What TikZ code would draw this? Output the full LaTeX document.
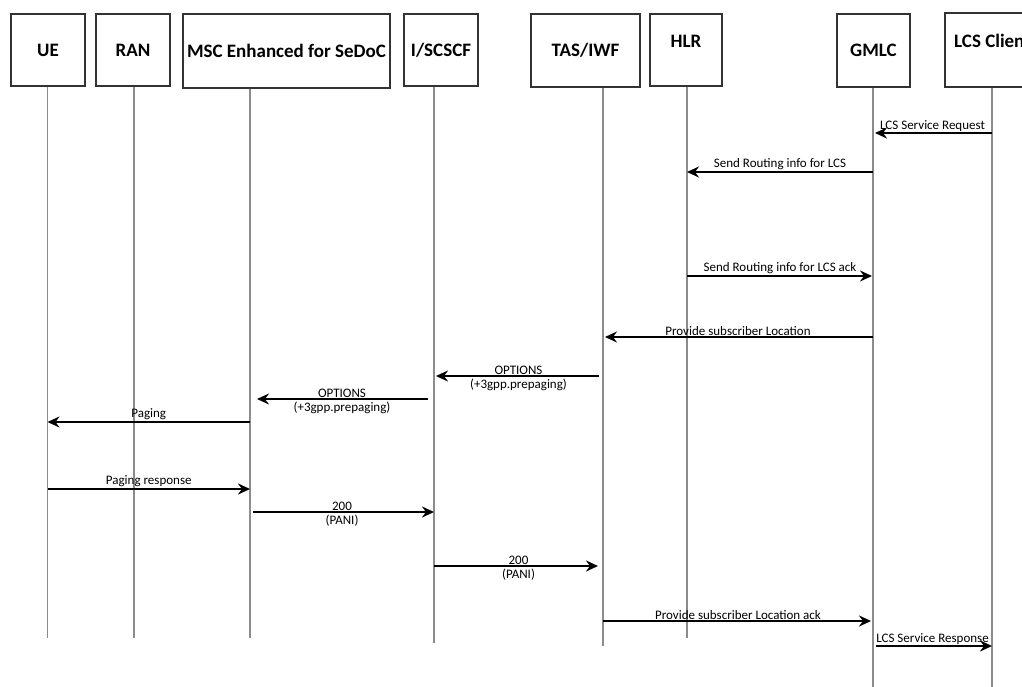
\documentclass[tikz,border=0pt]{standalone}
\usepackage{fontspec}
\setmainfont{Carlito}
\usetikzlibrary{arrows.meta}
\definecolor{boxgray}{HTML}{333333}
\definecolor{lifegray}{HTML}{8C8C8C}
\begin{document}
\begin{tikzpicture}[x=1pt,y=-1pt,
  hdr/.style={draw=boxgray, line width=1.3pt, inner sep=0pt,
              font=\fontsize{19}{22}\selectfont\bfseries},
  life/.style={draw=lifegray, line width=1.1pt},
  msg/.style={draw=black, line width=2.1pt,
              -{Stealth[length=12pt,width=11pt,inset=4pt]}},
  lbl/.style={font=\fontsize{13}{15}\selectfont, inner sep=0.8pt},
  lblb/.style={font=\fontsize{13}{15}\selectfont, inner sep=2pt}]
\useasboundingbox (0,0) rectangle (1022,686);
\clip (0,0) rectangle (1022,686);

% participant boxes
\node[hdr, minimum width=74,  minimum height=72] (ue)     at (48,50)    {UE};
\node[hdr, minimum width=74,  minimum height=72] (ran)    at (133,50)   {RAN};
\node[hdr, minimum width=207, minimum height=74] (msc)    at (286.5,51) {MSC Enhanced for SeDoC};
\node[hdr, minimum width=74,  minimum height=72] (iscscf) at (441,50)   {I/SCSCF};
\node[hdr, minimum width=109, minimum height=73] (tas)    at (585.5,50.5) {TAS/IWF};
\node[hdr, minimum width=72,  minimum height=72] (hlr)    at (686,50)   {\raisebox{18pt}{HLR}};
\node[hdr, minimum width=73,  minimum height=73] (gmlc)   at (873.5,50.5) {GMLC};
\node[hdr, minimum width=95,  minimum height=74] (lcs)    at (992.5,50) {\raisebox{18pt}{LCS Client}};

% lifeline tops and bottoms
\coordinate (Lue)     at (ue.south -| 47.5,0);
\coordinate (Lran)    at (ran.south -| 134,0);
\coordinate (Lmsc)    at (msc.south -| 250,0);
\coordinate (Liscscf) at (iscscf.south -| 434,0);
\coordinate (Ltas)    at (tas.south -| 603,0);
\coordinate (Lhlr)    at (hlr.south -| 687,0);
\coordinate (Lgmlc)   at (gmlc.south -| 873,0);
\coordinate (Llcs)    at (lcs.south -| 992,0);

\coordinate (Eue)     at (Lue |- 0,638);
\coordinate (Eran)    at (Lran |- 0,638);
\coordinate (Emsc)    at (Lmsc |- 0,638);
\coordinate (Eiscscf) at (Liscscf |- 0,643);
\coordinate (Etas)    at (Ltas |- 0,646);
\coordinate (Ehlr)    at (Lhlr |- 0,638);
\coordinate (Egmlc)   at (Lgmlc |- 0,690);
\coordinate (Elcs)    at (Llcs |- 0,690);

\foreach \p in {ue,ran,msc,iscscf,tas,hlr,gmlc,lcs}
  \draw[life] (L\p) -- (E\p);

% messages
\draw[msg, shorten >=2pt] (Llcs |- 0,133) -- node[lbl,above]{LCS Service Request} (Lgmlc |- 0,133);
\draw[msg] (Lgmlc |- 0,172) -- node[lbl,above]{Send Routing info for LCS} (Lhlr |- 0,172);
\draw[msg, shorten >=1pt] (Lhlr |- 0,276) -- node[lbl,above]{Send Routing info for LCS ack} (Lgmlc |- 0,276);
\draw[msg, shorten >=2pt] (Lgmlc |- 0,337) -- node[lbl,above]{Provide subscriber Location} (Ltas |- 0,337);
\draw[msg, shorten <=4pt, shorten >=2pt] (Ltas |- 0,376)
  -- node[lbl,above]{OPTIONS} node[lblb,below]{(+3gpp.prepaging)} (Liscscf |- 0,376);
\draw[msg, shorten <=6pt, shorten >=7pt] (Liscscf |- 0,399)
  -- node[lbl,above]{OPTIONS} node[lblb,below]{(+3gpp.prepaging)} (Lmsc |- 0,399);
\draw[msg] (Lmsc |- 0,422) -- node[lbl,above]{Paging} (Lue |- 0,422);
\draw[msg] (Lue |- 0,489) -- node[lbl,above]{Paging response} (Lmsc |- 0,489);
\draw[msg, shorten <=3pt] (Lmsc |- 0,512)
  -- node[lbl,above]{200} node[lblb,below]{(PANI)} (Liscscf |- 0,512);
\draw[msg, shorten >=5pt] (Liscscf |- 0,566)
  -- node[lbl,above]{200} node[lblb,below]{(PANI)} (Ltas |- 0,566);
\draw[msg, shorten >=2pt] (Ltas |- 0,621) -- node[lbl,above]{Provide subscriber Location ack} (Lgmlc |- 0,621);
\draw[msg, shorten <=3pt] (Lgmlc |- 0,646) -- node[lbl,above]{LCS Service Response} (Llcs |- 0,646);
\end{tikzpicture}
\end{document}
